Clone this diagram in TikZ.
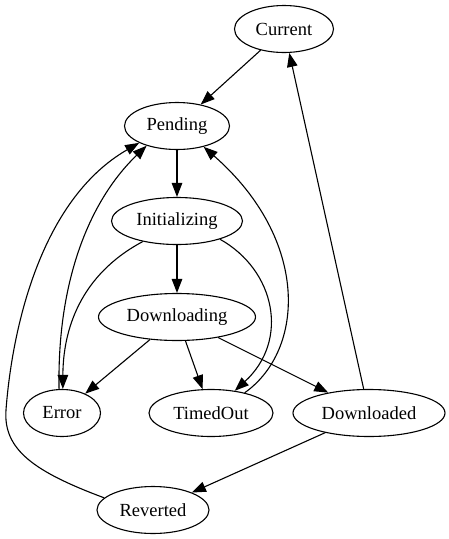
\documentclass[tikz,border=0pt]{standalone}
\usepackage{fontspec}
\setmainfont{Liberation Serif}
\usetikzlibrary{shapes.geometric, arrows.meta}
\tikzset{
  state/.style={draw, ellipse, line width=1.1pt, inner sep=0pt, minimum height=47pt,
    font=\fontsize{18.5}{22}\selectfont},
  edge/.style={-{Triangle[length=14pt, width=10.5pt]}, line width=1.1pt}
}

\begin{document}
\begin{tikzpicture}[x=1pt, y=-1pt]
  \useasboundingbox (0,0) rectangle (448,539);
  \node[state, minimum width=99pt]  (cur)  at (284,29)  {Current};
  \node[state, minimum width=105pt] (pend) at (177,126) {Pending};
  \node[state, minimum width=131pt] (init) at (177,221) {Initializing};
  \node[state, minimum width=157pt] (dl)   at (177,317) {Downloading};
  \node[state, minimum width=77pt]  (err)  at (62,413)  {Error};
  \node[state, minimum width=124pt] (tmo)  at (211,413) {TimedOut};
  \node[state, minimum width=152pt] (dld)  at (369,413) {Downloaded};
  \node[state, minimum width=112pt] (rev)  at (153,510) {Reverted};
  % straight edges
  \draw[edge] (cur) -- (pend);
  \draw[edge] (pend) -- (init);
  \draw[edge] (init) -- (dl);
  \draw[edge] (dl) -- (err);
  \draw[edge] (dl) -- (tmo);
  \draw[edge] (dl) -- (dld);
  \draw[edge] (dld) -- (cur);
  \draw[edge] (dld) -- (rev);
  % curved edges
  \draw[edge] (init.211) .. controls (80,275) and (63,330) .. (err.88);
  \draw[edge] (err.97) .. controls (57,280) and (90,200) .. (pend.213);
  \draw[edge] (init.337) .. controls (275,270) and (290,340) .. (tmo.43);
  \draw[edge] (tmo.31) .. controls (305,350) and (310,240) .. (pend.322);
  \draw[edge] (rev.166) .. controls (35,472) and (3,450) .. (6,410)
    .. controls (12,330) and (40,200) .. (pend.204);
\end{tikzpicture}
\end{document}
